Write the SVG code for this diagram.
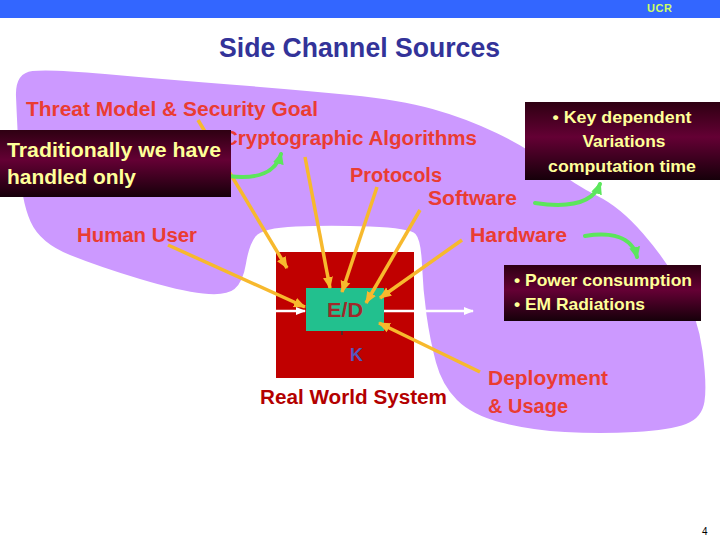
<svg xmlns="http://www.w3.org/2000/svg" width="720" height="540" viewBox="0 0 720 540">
<style>
.lbl{font-family:"Liberation Sans",Arial,sans-serif;font-weight:bold;font-size:20px;fill:#EA3C32}
.yel{font-family:"Liberation Sans",Arial,sans-serif;font-weight:bold;font-size:20px;fill:#FFFF99}
.yel2{font-family:"Liberation Sans",Arial,sans-serif;font-weight:bold;font-size:17px;fill:#FFFF99}
.ya{stroke:#F7B92D;stroke-width:3.5;fill:none;marker-end:url(#ah-y)}
.ga{stroke:#5CE65C;stroke-width:4;fill:none;stroke-linecap:round;marker-end:url(#ah-g)}
.wa{stroke:#FFFFFF;stroke-width:2.5;fill:none;marker-end:url(#ah-w)}
.dbox{fill:url(#dg)}
</style>
<defs>
<linearGradient id="dg" x1="0" y1="0" x2="0" y2="1">
<stop offset="0" stop-color="#2E0012"/>
<stop offset="0.45" stop-color="#640034"/>
<stop offset="1" stop-color="#16000A"/>
</linearGradient>
<marker id="ah-y" markerUnits="userSpaceOnUse" markerWidth="12" markerHeight="12" refX="11" refY="6" orient="auto"><path d="M0,1 L12,6 L0,11 Z" fill="#F7B92D"/></marker>
<marker id="ah-g" markerUnits="userSpaceOnUse" markerWidth="12" markerHeight="12" refX="10" refY="6" orient="auto"><path d="M0,0.5 L12,6 L0,11.5 Z" fill="#5CE65C"/></marker>
<marker id="ah-w" markerUnits="userSpaceOnUse" markerWidth="10" markerHeight="10" refX="9" refY="5" orient="auto"><path d="M0,1 L10,5 L0,9 Z" fill="#FFFFFF"/></marker>
</defs>
<rect width="720" height="540" fill="#FFFFFF"/>
<g id="header">
<rect x="0" y="0" width="720" height="18" fill="#3366FF"/>
<text x="647" y="12" font-family="Liberation Sans,Arial,sans-serif" font-weight="bold" font-size="11" fill="#CCFF66" textLength="25">UCR</text>
</g>
<g id="title">
<text x="219" y="57" font-family="Liberation Sans,Arial,sans-serif" font-weight="bold" font-size="27" fill="#333399" textLength="281" lengthAdjust="spacingAndGlyphs">Side Channel Sources</text>
</g>
<g id="blob">
<path fill="#CC99FF" d="M16,96.5 Q15,73 32.5,71 Q50,69 105,74 Q160,79 230,84.5 Q300,90 350,95 Q400,100 432.5,109 Q465,118 496.5,133 Q528,148 551.5,166.5 Q575,185 597.5,196 Q620,207 643,233.5 Q666,260 682,288.5 Q698,317 702.5,351 Q707,385 704.5,401.5 Q702,418 686,424 Q670,430 635,432 Q600,434 565,432 Q530,430 501,422.5 Q472,415 457,400 Q442,385 436,362.5 Q430,340 426.5,315 Q423,290 422,265 Q421,240 415.5,234 Q410,228 370,226.5 Q330,225 296,226.5 Q262,228 255.5,236.5 Q249,245 246,263.5 Q243,282 234.5,289 Q226,296 203,293.5 Q180,291 140,279 Q100,267 70,255 Q40,243 30.5,221.5 Q21,200 19,160 Q17,120 16,96.5 Z"/>
</g>
<g id="real-world-system">
<rect x="276" y="252" width="138" height="126" fill="#C00000"/>
<text x="260" y="404" font-family="Liberation Sans,Arial,sans-serif" font-weight="bold" font-size="20" fill="#B30000" textLength="187" lengthAdjust="spacingAndGlyphs">Real World System</text>
</g>
<g id="ed">
<rect x="306" y="288" width="78" height="43" fill="#22C08E"/>
<text x="327" y="317" font-family="Liberation Sans,Arial,sans-serif" font-weight="bold" font-size="20" fill="#A0282A" textLength="36" lengthAdjust="spacingAndGlyphs">E/D</text>
</g>
<g id="k">
<text x="350" y="361" font-family="Liberation Sans,Arial,sans-serif" font-weight="bold" font-size="18" fill="#5555BB">K</text>
</g>
<g id="threat"><text class="lbl" x="26" y="116" textLength="292" lengthAdjust="spacingAndGlyphs">Threat Model &amp; Security Goal</text></g>
<g id="crypto"><text class="lbl" x="223" y="145" textLength="254" lengthAdjust="spacingAndGlyphs">Cryptographic Algorithms</text></g>
<g id="protocols"><text class="lbl" x="350" y="182" textLength="92" lengthAdjust="spacingAndGlyphs">Protocols</text></g>
<g id="software"><text class="lbl" x="428" y="205" textLength="89" lengthAdjust="spacingAndGlyphs">Software</text></g>
<g id="hardware"><text class="lbl" x="470" y="242" textLength="97" lengthAdjust="spacingAndGlyphs">Hardware</text></g>
<g id="human"><text class="lbl" x="77" y="242" textLength="120" lengthAdjust="spacingAndGlyphs">Human User</text></g>
<g id="deploy">
<text class="lbl" x="488" y="385" textLength="120" lengthAdjust="spacingAndGlyphs">Deployment</text>
<text class="lbl" x="488" y="413" textLength="80" lengthAdjust="spacingAndGlyphs">&amp; Usage</text>
</g>
<g id="connectors">
<line class="wa" x1="276" y1="311" x2="305" y2="311"/>
<line class="wa" x1="384" y1="311" x2="473" y2="311"/>
<line x1="342" y1="331" x2="342" y2="335" stroke="#333333" stroke-width="1.5"/>
<line class="ya" x1="198" y1="120" x2="287" y2="268"/>
<line class="ya" x1="305" y1="157" x2="330" y2="288"/>
<line class="ya" x1="377" y1="187" x2="342" y2="292"/>
<line class="ya" x1="420" y1="210" x2="366" y2="303"/>
<line class="ya" x1="462" y1="240" x2="380" y2="298"/>
<line class="ya" x1="168" y1="245" x2="305" y2="307"/>
<line class="ya" x1="480" y1="372" x2="379" y2="323"/>
<path class="ga" d="M228,176 C258,180 276,172 281,154"/>
<path class="ga" d="M535,203 C562,207 592,206 600,184"/>
<path class="ga" d="M585,236 C610,232 632,236 637,257"/>
</g>
<g id="traditionally">
<rect class="dbox" x="0" y="130" width="231" height="67"/>
<text class="yel" x="7" y="157" textLength="214" lengthAdjust="spacingAndGlyphs">Traditionally we have</text>
<text class="yel" x="7" y="184" textLength="129" lengthAdjust="spacingAndGlyphs">handled only</text>
</g>
<g id="timing">
<rect class="dbox" x="525" y="102" width="195" height="78"/>
<text class="yel2" x="622" y="123" text-anchor="middle" textLength="139" lengthAdjust="spacingAndGlyphs">• Key dependent</text>
<text class="yel2" x="624" y="147" text-anchor="middle" textLength="83" lengthAdjust="spacingAndGlyphs">Variations</text>
<text class="yel2" x="622" y="172" text-anchor="middle" textLength="148" lengthAdjust="spacingAndGlyphs">computation time</text>
</g>
<g id="power">
<rect class="dbox" x="504" y="265" width="197" height="56"/>
<text class="yel2" x="514" y="286" textLength="178" lengthAdjust="spacingAndGlyphs">• Power consumption</text>
<text class="yel2" x="514" y="310" textLength="131" lengthAdjust="spacingAndGlyphs">• EM Radiations</text>
</g>
<g id="page">
<text x="702" y="535" font-family="Liberation Sans,Arial,sans-serif" font-size="10" fill="#000000">4</text>
</g>
</svg>
